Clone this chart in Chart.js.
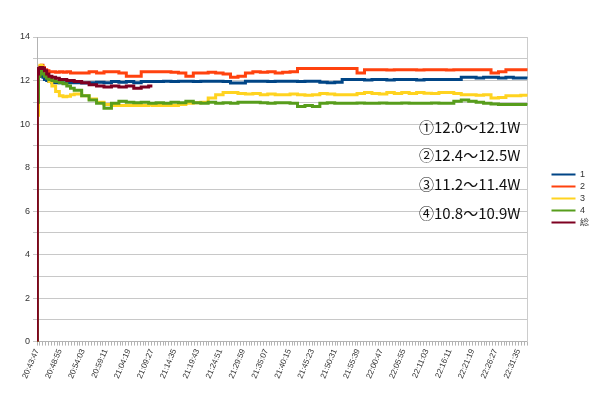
<!DOCTYPE html>
<html><head><meta charset="utf-8">
<script src="https://cdn.jsdelivr.net/npm/chart.js@4"></script>
<style>html,body{margin:0;padding:0;background:#fff}#wrap{width:599px;height:394px}</style>
</head><body><div id="wrap"><canvas id="c"></canvas></div>
<script>
// elapsed seconds from 20:43:47
const timeSec = [0,4,20,40,60,80,100,130,160,200,250,300,350,400,450,500,600,700,800,900,1000,1100,1200,1300,1400,1500,1550,
1600,1700,1800,1900,2000,2100,2200,2300,2400,2500,2600,2700,2800,2900,3000,3100,3200,3300,3400,3500,3600,3700,3800,3900,
4000,4100,4200,4300,4400,4500,4600,4700,4800,4900,5000,5100,5200,5300,5400,5500,5600,5700,5800,5900,6000,6100,6200,6300,6400,6500,6590];
const seriesNames = ['1','2','3','4','総'];
const s1 = [0,11.6,12.2,12.3,12.25,12.15,12.05,12.0,11.95,11.9,11.9,11.9,11.88,11.9,11.9,11.9,11.88,11.9,11.92,11.9,11.95,11.92,11.95,11.9,11.95,11.95,11.95,
11.95,11.97,11.95,11.97,11.97,11.95,11.97,11.97,11.97,11.95,11.88,11.88,11.97,11.97,11.97,11.95,11.97,11.97,11.97,11.95,11.97,11.97,11.92,11.9,
11.92,12.05,12.05,12.05,12.02,12.05,12.05,12.02,12.05,12.05,12.05,12.02,12.05,12.05,12.05,12.05,12.05,12.15,12.15,12.12,12.15,12.15,12.12,12.15,12.12,12.12,12.1];
const s2 = [0,12.0,12.5,12.65,12.7,12.6,12.5,12.45,12.4,12.4,12.38,12.4,12.38,12.4,12.35,12.35,12.35,12.4,12.35,12.4,12.4,12.35,12.2,12.2,12.4,12.4,12.4,
12.4,12.4,12.38,12.35,12.2,12.35,12.35,12.38,12.35,12.3,12.15,12.2,12.35,12.4,12.38,12.4,12.35,12.38,12.4,12.55,12.55,12.55,12.55,12.55,
12.55,12.55,12.55,12.35,12.5,12.5,12.5,12.48,12.5,12.5,12.5,12.48,12.5,12.5,12.5,12.48,12.5,12.5,12.5,12.5,12.5,12.35,12.4,12.5,12.5,12.5,12.45];
const s3 = [0,10.4,12.5,12.7,12.65,12.5,12.35,12.15,11.95,11.75,11.5,11.3,11.25,11.28,11.35,11.38,11.3,11.15,11.0,10.9,10.85,10.85,10.85,10.85,10.85,10.88,10.85,
10.85,10.85,10.85,10.9,10.95,10.98,11.0,11.2,11.35,11.45,11.45,11.4,11.38,11.4,11.35,11.38,11.35,11.35,11.38,11.35,11.32,11.35,11.4,11.38,
11.35,11.35,11.35,11.4,11.45,11.4,11.38,11.45,11.4,11.45,11.4,11.45,11.42,11.4,11.45,11.45,11.4,11.35,11.35,11.32,11.35,11.2,11.22,11.3,11.3,11.32,11.28];
const s4 = [0,11.0,12.2,12.42,12.4,12.3,12.2,12.1,12.05,12.0,11.95,11.9,11.85,11.75,11.65,11.55,11.3,11.1,10.95,10.72,10.95,11.05,11.0,10.98,11.0,10.95,10.95,
10.98,10.95,11.0,10.98,11.05,10.98,10.95,11.0,10.95,10.98,10.95,11.0,11.0,11.0,10.98,10.95,10.98,10.98,10.95,10.8,10.85,10.8,10.95,10.98,
10.95,10.95,10.95,10.97,10.95,10.95,10.97,10.95,10.95,10.97,10.95,10.95,10.95,10.97,10.95,10.95,11.05,11.1,11.05,11.0,10.95,10.92,10.9,10.9,10.9,10.9,10.88];
const s5 = [0,12.3,12.55,12.6,12.6,12.55,12.45,12.3,12.2,12.15,12.1,12.05,12.05,12.0,12.0,11.95,11.9,11.8,11.75,11.7,11.75,11.7,11.75,11.65,11.7,11.75,11.75,
null,null,null,null,null,null,null,null,null,null,null,null,null,null,null,null,null,null,null,null,null,null,null,null,
null,null,null,null,null,null,null,null,null,null,null,null,null,null,null,null,null,null,null,null,null,null,null,null,null,null,null];
const tickLabels = ['20:43:47','20:48:55','20:54:03','20:59:11','21:04:19','21:09:27','21:14:35','21:19:43','21:24:51','21:29:59','21:35:07',
'21:40:15','21:45:23','21:50:31','21:55:39','22:00:47','22:05:55','22:11:03','22:16:11','22:21:19','22:26:27','22:31:35'];
const labelStep = 308;
const yTicks = [0,1,2,3,4,5,6,7,8,9,10,11,12,13,14];
const notes = ['①12.0～12.1W','②12.4～12.5W','③11.2～11.4W','④10.8～10.9W'];
const colors = ['#004586','#ff420e','#ffd320','#579d1c','#7e0021'];

const allSeries = [s1,s2,s3,s4,s5];
const datasets = allSeries.map((s,k)=>({
  label: seriesNames[k],
  data: timeSec.map((t,i)=>({x:t,y:s[i]})),
  borderColor: colors[k], backgroundColor: colors[k],
  borderWidth: 3, pointRadius: 0, stepped: true, spanGaps: false,
  order: 5-k
}));

const notePlugin = {
  id:'notes',
  afterDatasetsDraw(chart){
    const ctx = chart.ctx, a = chart.chartArea;
    ctx.save();
    ctx.font = '15px "Noto Sans CJK JP"';
    ctx.fillStyle = '#111';
    ctx.textAlign = 'right';
    ctx.textBaseline = 'middle';
    notes.forEach((n,i)=>{ ctx.fillText(n, a.right-7, 127 + i*28.7); });
    ctx.restore();
  }
};

new Chart(document.getElementById('c'), {
  type:'line',
  data:{datasets},
  options:{
    responsive:true, maintainAspectRatio:false, animation:false,
    layout:{padding:{top:15,left:17,right:0,bottom:12}},
    plugins:{
      legend:{position:'right',
        labels:{boxWidth:24,boxHeight:2,padding:3,color:'#333',font:{size:9,family:'Liberation Sans'},
          sort:(a,b)=>a.datasetIndex-b.datasetIndex,
          generateLabels(chart){
            const l = Chart.defaults.plugins.legend.labels.generateLabels(chart);
            l.forEach(it=>{it.lineWidth=0; it.fillStyle=colors[it.datasetIndex];});
            return l;
          }}},
      tooltip:{enabled:false}
    },
    scales:{
      x:{type:'linear',min:0,max:6590,
        afterBuildTicks(axis){
          const t=[]; for(let v=0; v<=6590; v+=labelStep/8) t.push({value:v});
          axis.ticks=t;
        },
        ticks:{autoSkip:false,minRotation:67,maxRotation:67,color:'#333',font:{size:8,family:'Liberation Sans'},padding:2,
          callback(v){const k=v/labelStep; return Math.abs(k-Math.round(k))<1e-6 && tickLabels[Math.round(k)] ? tickLabels[Math.round(k)] : '';}},
        grid:{drawOnChartArea:false,tickLength:4,color:'#b3b3b3'},
        border:{color:'#b3b3b3'}
      },
      xTop:{type:'linear',position:'top',min:0,max:6590,
        afterFit(scale){scale.height=22;},
        ticks:{display:false},grid:{display:false,drawTicks:false},border:{display:false}},
      y:{min:0,max:14,
        afterBuildTicks(axis){ axis.ticks = yTicks.map(v=>({value:v})); },
        ticks:{autoSkip:false,color:'#333',font:{size:9,family:'Liberation Sans'},padding:3,
          callback(v){return v%2===0?String(v):' ';}},
        grid:{color:'#c8c8c8',tickLength:4,lineWidth:1},
        border:{color:'#b3b3b3'}
      },
      y2:{position:'right',min:0,max:14,
        afterFit(scale){scale.width=21;},
        ticks:{display:false},grid:{drawOnChartArea:false,drawTicks:false},border:{color:'#cccccc'}}
    }
  },
  plugins:[notePlugin]
});
</script></body></html>
